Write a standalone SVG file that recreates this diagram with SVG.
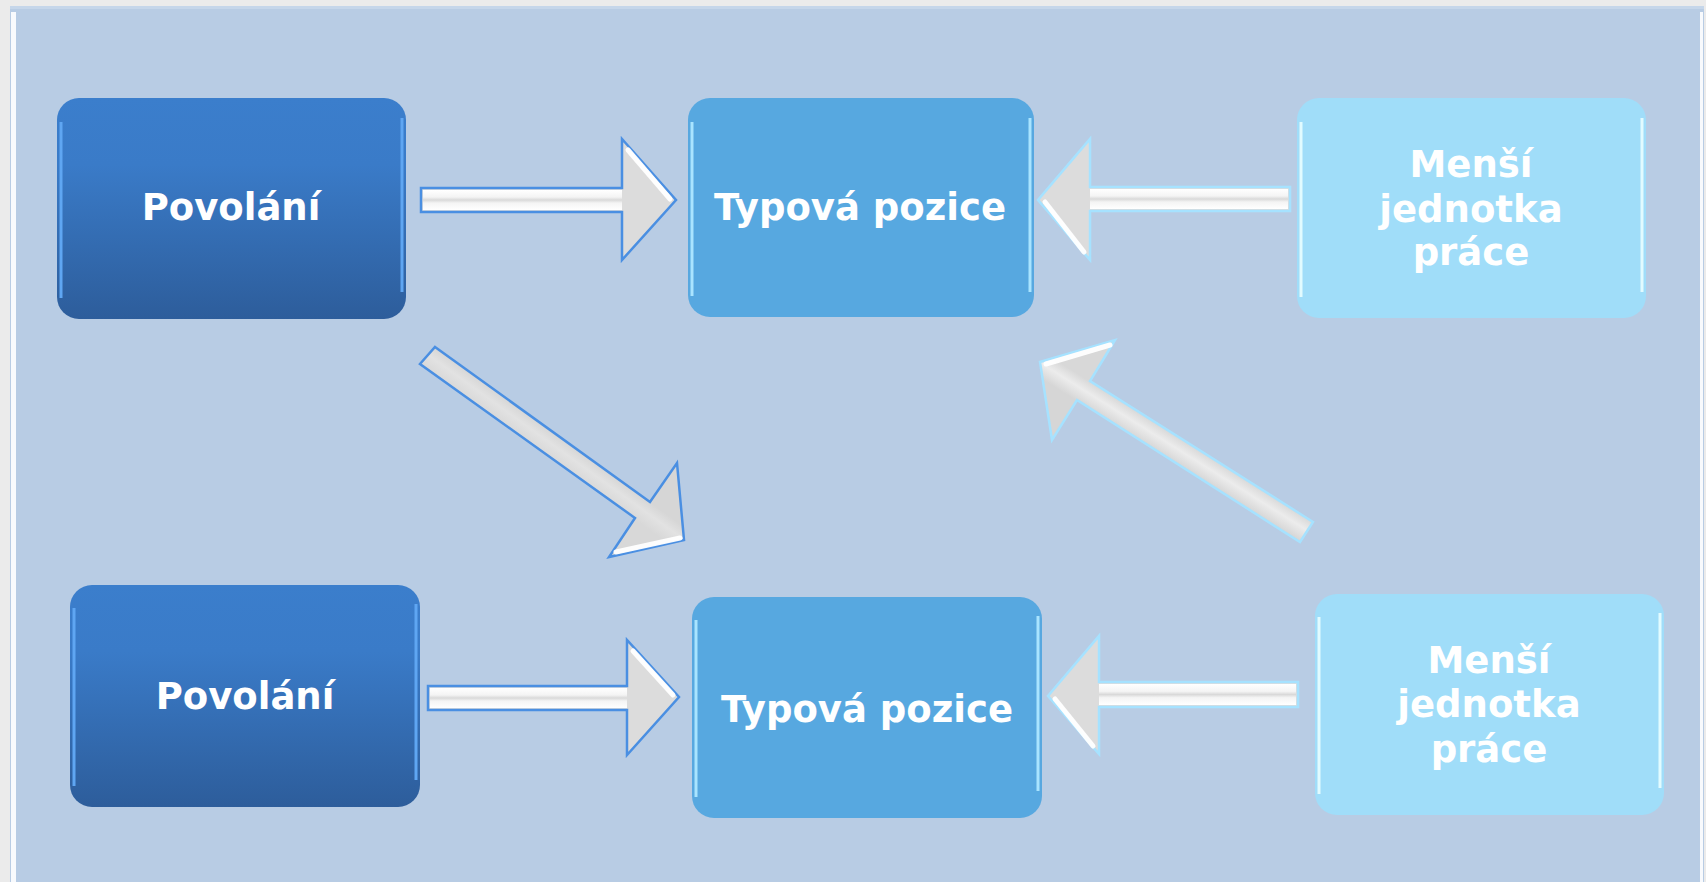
<svg xmlns="http://www.w3.org/2000/svg" width="1706" height="882" viewBox="0 0 1706 882">
<style>
.lbl{font-family:"DejaVu Sans","Verdana",sans-serif;font-weight:bold;font-size:37px;fill:#ffffff;text-anchor:middle}
.arD{fill:#dcdcdc;stroke:#4a8fe2;stroke-width:2.5;stroke-linejoin:miter}
.arL{fill:#dcdcdc;stroke:#a6e2ff;stroke-width:2.5;stroke-linejoin:miter}
.bev{stroke:#ffffff;stroke-width:5;stroke-linecap:round;fill:none;opacity:0.95}
.hlD{stroke:#5fa6f2;stroke-width:3;fill:none}
.hlM{stroke:#a9e4ff;stroke-width:3;fill:none}
.hlL{stroke:#e2fbff;stroke-width:3;fill:none}
</style>
<defs>
<linearGradient id="gDark" x1="0" y1="0" x2="0" y2="1">
<stop offset="0" stop-color="#3b7ecc"/>
<stop offset="0.3" stop-color="#3a7bc8"/>
<stop offset="1" stop-color="#2d5d9b"/>
</linearGradient>
<linearGradient id="gShaftH" x1="0" y1="0" x2="0" y2="1">
<stop offset="0" stop-color="#ffffff"/>
<stop offset="0.35" stop-color="#f4f4f4"/>
<stop offset="0.5" stop-color="#d9d9d9"/>
<stop offset="0.65" stop-color="#f4f4f4"/>
<stop offset="1" stop-color="#ffffff"/>
</linearGradient>
<linearGradient id="gA3" gradientUnits="userSpaceOnUse" x1="540" y1="422.7" x2="526.5" y2="441.4">
<stop offset="0" stop-color="#d6d6d6"/>
<stop offset="0.45" stop-color="#e2e2e2"/>
<stop offset="1" stop-color="#d8d8d8"/>
</linearGradient>
<linearGradient id="gA4" gradientUnits="userSpaceOnUse" x1="1200" y1="450.6" x2="1187.5" y2="470.5">
<stop offset="0" stop-color="#d8d8d8"/>
<stop offset="0.45" stop-color="#ececec"/>
<stop offset="1" stop-color="#d6d6d6"/>
</linearGradient>
</defs>
<rect x="0" y="0" width="1706" height="882" fill="#ebebeb"/>
<rect x="10" y="6" width="1694" height="876" fill="#b8cce4"/>
<rect x="10" y="6" width="1694" height="3" fill="#c5d6ea"/>
<rect x="11" y="12" width="5" height="870" fill="#ffffff" opacity="0.9"/>
<rect x="1700" y="12" width="3" height="870" fill="#ffffff" opacity="0.9"/>

<g id="connectors">
<g id="a1">
<polygon class="arD" points="421,188 622,188 622,139 676,200 622,260 622,212 421,212"/>
<rect x="423" y="190" width="199" height="20" fill="url(#gShaftH)"/>
<polyline class="bev" points="628,150 670,199"/>
</g>
<g id="a2">
<polygon class="arL" points="1290,187 1090,187 1090,139 1038,200 1090,260 1090,211 1290,211"/>
<rect x="1090" y="189" width="198" height="20" fill="url(#gShaftH)"/>
<polyline class="bev" points="1045,202 1084,252"/>
</g>
<g id="a3">
<polygon class="arD" fill="url(#gA3)" style="fill:url(#gA3)" points="435,347 650,502 677,463 684,540 609,557 635,518 420,364"/>
<polyline class="bev" points="616,552 680,538"/>
</g>
<g id="a4">
<polygon class="arL" style="fill:url(#gA4)" points="1313,522 1090,381 1115,340 1040,362 1052,440 1077,400 1300,542"/>
<polyline class="bev" points="1046,364 1110,345"/>
</g>
<g id="a5">
<polygon class="arD" points="428,686 627,686 627,640 679,697 627,755 627,710 428,710"/>
<rect x="430" y="688" width="197" height="20" fill="url(#gShaftH)"/>
<polyline class="bev" points="633,651 673,695"/>
</g>
<g id="a6">
<polygon class="arL" points="1298,682 1099,682 1099,636 1048,696 1099,754 1099,707 1298,707"/>
<rect x="1099" y="684" width="197" height="21" fill="url(#gShaftH)"/>
<polyline class="bev" points="1055,699 1093,746"/>
</g>
</g>

<g id="n1">
<rect x="57" y="98" width="349" height="221" rx="22" fill="url(#gDark)"/>
<line class="hlD" x1="61" y1="122" x2="61" y2="298"/>
<line class="hlD" x1="402" y1="118" x2="402" y2="292"/>
<text class="lbl" x="231" y="220">Povolání</text>
</g>
<g id="n2">
<rect x="688" y="98" width="346" height="219" rx="22" fill="#57a8e0"/>
<line class="hlM" x1="692" y1="122" x2="692" y2="296"/>
<line class="hlM" x1="1030" y1="118" x2="1030" y2="292"/>
<text class="lbl" x="860" y="220">Typová pozice</text>
</g>
<g id="n3">
<rect x="1297" y="98" width="349" height="220" rx="22" fill="#a0ddf9"/>
<line class="hlL" x1="1301" y1="122" x2="1301" y2="297"/>
<line class="hlL" x1="1642" y1="118" x2="1642" y2="292"/>
<text class="lbl" x="1471" y="177">Menší</text>
<text class="lbl" x="1471" y="222">jednotka</text>
<text class="lbl" x="1471" y="265">práce</text>
</g>
<g id="n4">
<rect x="70" y="585" width="350" height="222" rx="22" fill="url(#gDark)"/>
<line class="hlD" x1="74" y1="608" x2="74" y2="786"/>
<line class="hlD" x1="416" y1="604" x2="416" y2="780"/>
<text class="lbl" x="245" y="709">Povolání</text>
</g>
<g id="n5">
<rect x="692" y="597" width="350" height="221" rx="22" fill="#57a8e0"/>
<line class="hlM" x1="696" y1="620" x2="696" y2="797"/>
<line class="hlM" x1="1038" y1="616" x2="1038" y2="791"/>
<text class="lbl" x="867" y="722">Typová pozice</text>
</g>
<g id="n6">
<rect x="1315" y="594" width="349" height="221" rx="22" fill="#a0ddf9"/>
<line class="hlL" x1="1319" y1="617" x2="1319" y2="794"/>
<line class="hlL" x1="1660" y1="613" x2="1660" y2="788"/>
<text class="lbl" x="1489" y="673">Menší</text>
<text class="lbl" x="1489" y="717">jednotka</text>
<text class="lbl" x="1489" y="762">práce</text>
</g>
</svg>
